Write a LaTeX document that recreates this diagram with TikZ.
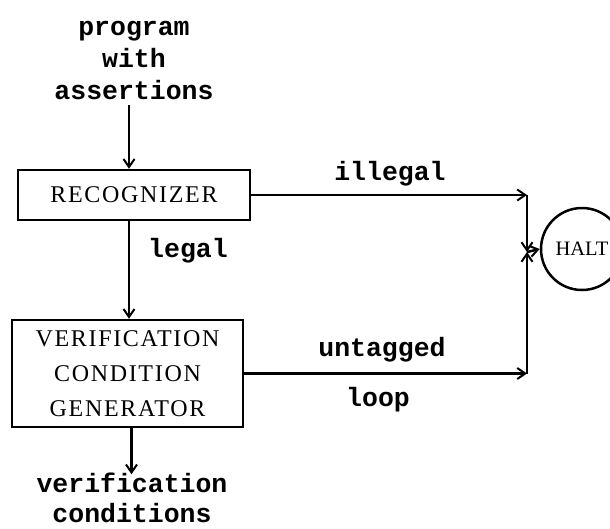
\documentclass[tikz,border=0pt]{standalone}
\usepackage{fontspec}
\setmainfont{Liberation Serif}
\newfontfamily\labfont{Liberation Mono}
\newfontfamily\boxfont[LetterSpace=7]{Liberation Serif}
\newfontfamily\haltfont{Liberation Serif}
\usetikzlibrary{arrows.meta,calc}
\begin{document}
\begin{tikzpicture}[x=1pt,y=-1pt,
  line width=2.5pt,
  arr/.style={-{Straight Barb[length=8pt,width=11pt,line width=2pt]}},
  lab/.style={font=\labfont\bfseries\fontsize{26.5}{32}\selectfont, inner sep=0pt, align=center},
  blk/.style={draw, rectangle, inner sep=0pt, align=center, font=\boxfont\fontsize{24}{35}\selectfont}]
\useasboundingbox (0,0) rectangle (610,528);
\node[lab] (prog) at (134,60) {program\\with\\assertions};
\node[blk, minimum width=232pt, minimum height=50pt] (rec) at (134,195) {RECOGNIZER};
\node[blk, minimum width=231pt, minimum height=107pt] (vcg) at (127.5,373.5) {VERIFICATION\\CONDITION\\GENERATOR};
\node[lab, font=\labfont\bfseries\fontsize{26.5}{30}\selectfont] (out) at (132,498) {verification\\conditions};
\node[draw, circle, minimum size=82pt, inner sep=0pt, font=\haltfont\fontsize{20.5}{24}\selectfont] (halt) at (582,249) {HALT};
\coordinate (j) at (527,252);
\coordinate (c1) at (j |- rec.east);
\coordinate (c2) at (j |- vcg.east);
\node[lab] (ill) at (390,174) {illegal};
\node[lab] (leg) at (188,251) {legal};
\node[lab] (unt) at (382,350) {untagged};
\node[lab] (loop) at (378,400) {loop};
\draw[arr] ($(prog.south)+(-5,4)$) -- ($(rec.north)+(-5,0)$);
\draw[arr] ($(rec.south)+(-5,0)$) -- ($(rec.south |- vcg.north)+(-5,0)$);
\draw[arr] ($(vcg.south)+(4,0)$) -- ($(vcg.south)+(4,46)$);
\draw[arr] (rec.east) -- (c1);
\draw[arr] (vcg.east) -- (c2);
\draw[arr] (c1) -- (j);
\draw[arr] (c2) -- (j);
\draw[arr] (j) -- (halt.west);
\end{tikzpicture}
\end{document}
